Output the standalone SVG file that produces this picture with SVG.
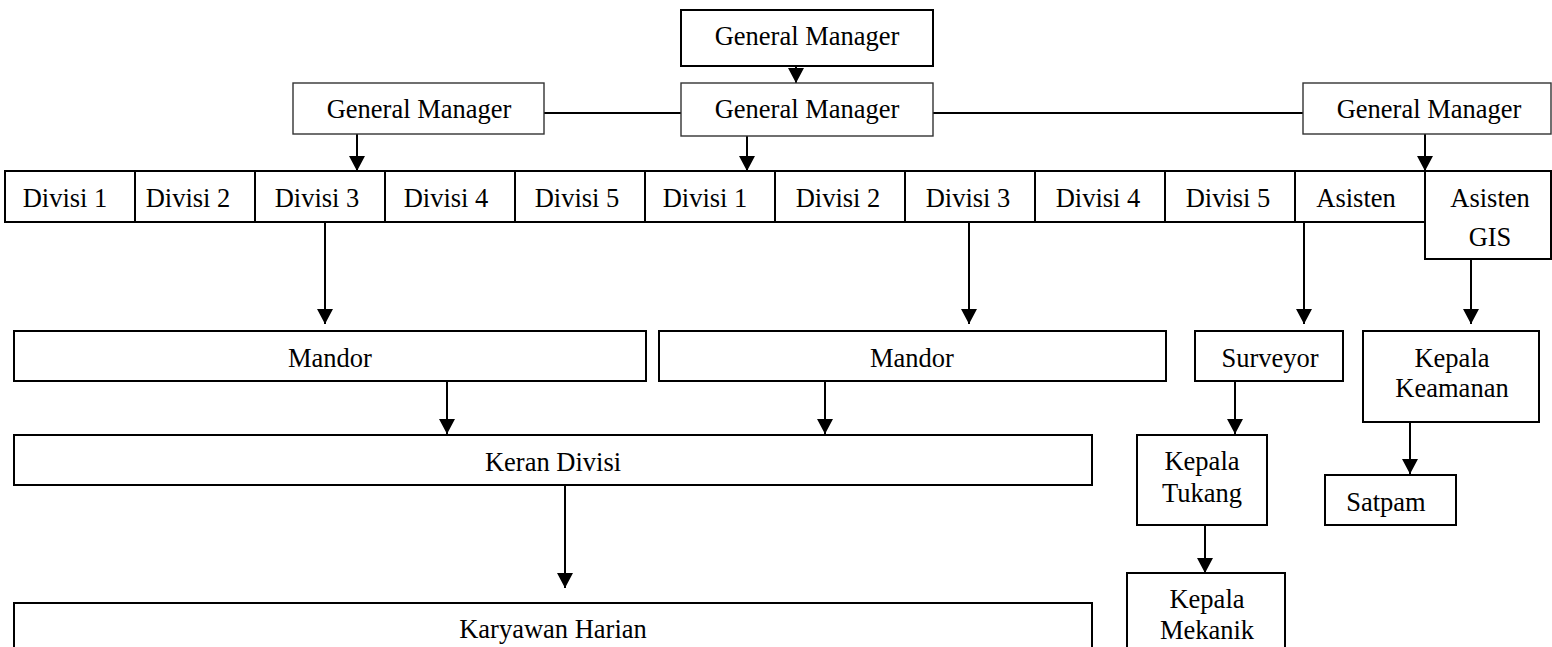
<svg xmlns="http://www.w3.org/2000/svg" width="1552" height="647" viewBox="0 0 1552 647">
<style>
.box{fill:#fff;stroke:#000;stroke-width:2}
.gm{fill:#fff;stroke:#333;stroke-width:1.4}
.t{font-family:"Liberation Serif","Times New Roman",serif;font-size:26.5px;fill:#000;text-anchor:middle}
.c{fill:none;stroke:#000;stroke-width:2}
</style>
<defs>
<marker id="ah" viewBox="0 0 15 16" refX="15" refY="8" markerWidth="15" markerHeight="16" markerUnits="userSpaceOnUse" orient="auto">
<path d="M0,0 L15,8 L0,16 Z" fill="#000"/>
</marker>
</defs>
<rect width="1552" height="647" fill="#fff"/>
<g id="connectors">
<line class="c" x1="544" y1="113" x2="681" y2="113"/>
<line class="c" x1="933" y1="113" x2="1303" y2="113"/>
<line class="c" x1="796" y1="66" x2="796" y2="83" marker-end="url(#ah)"/>
<line class="c" x1="357" y1="134" x2="357" y2="171" marker-end="url(#ah)"/>
<line class="c" x1="747" y1="136" x2="747" y2="171" marker-end="url(#ah)"/>
<line class="c" x1="1425" y1="134" x2="1425" y2="171" marker-end="url(#ah)"/>
<line class="c" x1="325" y1="222" x2="325" y2="324" marker-end="url(#ah)"/>
<line class="c" x1="969" y1="222" x2="969" y2="324" marker-end="url(#ah)"/>
<line class="c" x1="1304" y1="222" x2="1304" y2="324" marker-end="url(#ah)"/>
<line class="c" x1="1471" y1="259" x2="1471" y2="324" marker-end="url(#ah)"/>
<line class="c" x1="447" y1="381" x2="447" y2="434" marker-end="url(#ah)"/>
<line class="c" x1="825" y1="381" x2="825" y2="434" marker-end="url(#ah)"/>
<line class="c" x1="565" y1="485" x2="565" y2="588" marker-end="url(#ah)"/>
<line class="c" x1="1235" y1="381" x2="1235" y2="434" marker-end="url(#ah)"/>
<line class="c" x1="1205" y1="525" x2="1205" y2="573" marker-end="url(#ah)"/>
<line class="c" x1="1410" y1="422" x2="1410" y2="474" marker-end="url(#ah)"/>
</g>
<g id="gm-top"><rect class="box" x="681" y="10" width="252" height="56" stroke-width="1.5"/><text class="t" x="807" y="45">General Manager</text></g>
<g id="gm-center"><rect class="gm" x="681" y="83" width="252" height="53"/><text class="t" x="807" y="118">General Manager</text></g>
<g id="gm-left"><rect class="gm" x="293" y="83" width="251" height="51"/><text class="t" x="419" y="118">General Manager</text></g>
<g id="gm-right"><rect class="gm" x="1303" y="83" width="248" height="51"/><text class="t" x="1429" y="118">General Manager</text></g>
<g id="divisi-1a"><rect class="box" x="5" y="171" width="130" height="51"/><text class="t" x="65" y="207">Divisi 1</text></g>
<g id="divisi-2a"><rect class="box" x="135" y="171" width="120" height="51"/><text class="t" x="188" y="207">Divisi 2</text></g>
<g id="divisi-3a"><rect class="box" x="255" y="171" width="130" height="51"/><text class="t" x="317" y="207">Divisi 3</text></g>
<g id="divisi-4a"><rect class="box" x="385" y="171" width="130" height="51"/><text class="t" x="446" y="207">Divisi 4</text></g>
<g id="divisi-5a"><rect class="box" x="515" y="171" width="130" height="51"/><text class="t" x="577" y="207">Divisi 5</text></g>
<g id="divisi-1b"><rect class="box" x="645" y="171" width="130" height="51"/><text class="t" x="705" y="207">Divisi 1</text></g>
<g id="divisi-2b"><rect class="box" x="775" y="171" width="130" height="51"/><text class="t" x="838" y="207">Divisi 2</text></g>
<g id="divisi-3b"><rect class="box" x="905" y="171" width="130" height="51"/><text class="t" x="968" y="207">Divisi 3</text></g>
<g id="divisi-4b"><rect class="box" x="1035" y="171" width="130" height="51"/><text class="t" x="1098" y="207">Divisi 4</text></g>
<g id="divisi-5b"><rect class="box" x="1165" y="171" width="130" height="51"/><text class="t" x="1228" y="207">Divisi 5</text></g>
<g id="asisten"><rect class="box" x="1295" y="171" width="130" height="51"/><text class="t" x="1356" y="207">Asisten</text></g>
<g id="asisten-gis"><rect class="box" x="1425" y="171" width="126" height="88"/><text class="t" x="1490" y="207">Asisten</text><text class="t" x="1490" y="246">GIS</text></g>
<g id="mandor-1"><rect class="box" x="14" y="331" width="632" height="50"/><text class="t" x="330" y="367">Mandor</text></g>
<g id="mandor-2"><rect class="box" x="659" y="331" width="507" height="50"/><text class="t" x="912" y="367">Mandor</text></g>
<g id="surveyor"><rect class="box" x="1195" y="331" width="148" height="50"/><text class="t" x="1270" y="367">Surveyor</text></g>
<g id="kepala-keamanan"><rect class="box" x="1363" y="331" width="176" height="91"/><text class="t" x="1452" y="367">Kepala</text><text class="t" x="1452" y="397">Keamanan</text></g>
<g id="keran-divisi"><rect class="box" x="14" y="435" width="1078" height="50"/><text class="t" x="553" y="471">Keran Divisi</text></g>
<g id="kepala-tukang"><rect class="box" x="1137" y="435" width="130" height="90"/><text class="t" x="1202" y="470">Kepala</text><text class="t" x="1202" y="502">Tukang</text></g>
<g id="satpam"><rect class="box" x="1325" y="475" width="131" height="50"/><text class="t" x="1386" y="511">Satpam</text></g>
<g id="karyawan-harian"><rect class="box" x="14" y="603" width="1078" height="60"/><text class="t" x="553" y="638">Karyawan Harian</text></g>
<g id="kepala-mekanik"><rect class="box" x="1127" y="573" width="158" height="90"/><text class="t" x="1207" y="608">Kepala</text><text class="t" x="1207" y="639">Mekanik</text></g>
</svg>
